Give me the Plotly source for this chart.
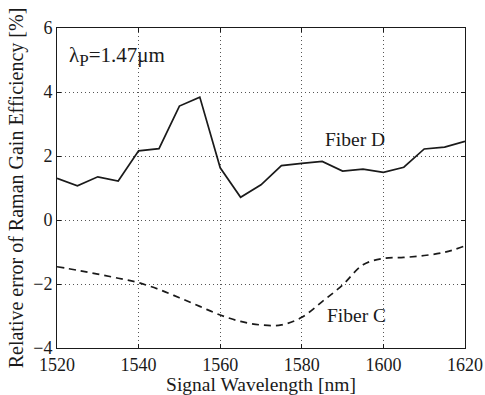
import plotly.graph_objects as go

wavelength = [1520, 1525, 1530, 1535, 1540, 1545, 1550, 1555, 1560, 1565, 1570,
              1575, 1580, 1585, 1590, 1595, 1600, 1605, 1610, 1615, 1620]
fiber_d = [1.30, 1.07, 1.35, 1.22, 2.16, 2.23, 3.56, 3.84, 1.63, 0.71, 1.10,
           1.70, 1.77, 1.83, 1.53, 1.59, 1.49, 1.65, 2.22, 2.28, 2.46]
fiber_c = [-1.46, -1.57, -1.69, -1.82, -1.96, -2.17, -2.43, -2.70, -2.97, -3.17, -3.28,
           -3.28, -3.04, -2.55, -2.03, -1.40, -1.20, -1.17, -1.11, -1.01, -0.81]
x_ticks = [1520, 1540, 1560, 1580, 1600, 1620]
y_ticks = [-4, -2, 0, 2, 4, 6]

FONT = "Liberation Serif"
INK = "#1a1a1a"

fig = go.Figure()
fig.add_trace(go.Scatter(x=wavelength, y=fiber_d, mode="lines",
                         line=dict(color=INK, width=1.7), showlegend=False))
fig.add_trace(go.Scatter(x=wavelength, y=fiber_c, mode="lines",
                         line=dict(color=INK, width=1.7, dash="7px,5px", shape="spline"),
                         showlegend=False))

axis_common = dict(showline=True, linecolor=INK, linewidth=1, mirror="ticks",
                   ticks="inside", ticklen=4, tickcolor=INK,
                   showgrid=True, gridcolor="#555", griddash="1px,3px", gridwidth=1,
                   zeroline=False, automargin=False,
                   tickfont=dict(family=FONT, size=18, color=INK))

fig.update_xaxes(range=[1520, 1620], tickvals=x_ticks,
                 title=dict(text="Signal Wavelength [nm]", font=dict(family=FONT, size=19.5, color=INK), standoff=0),
                 **axis_common)
fig.update_yaxes(range=[-4, 6], tickvals=y_ticks,
                 title=dict(text="Relative error of Raman Gain Efficiency [%]", font=dict(family=FONT, size=20, color=INK), standoff=4),
                 **axis_common)

fig.add_annotation(x=1522.5, y=5.1, xref="x", yref="y", xanchor="left", yanchor="middle",
                   text="λ<sub><span style='font-size:17px'>P</span></sub>=1.47μm", showarrow=False,
                   font=dict(family=FONT, size=21, color=INK))
fig.add_annotation(x=1593, y=2.53, xref="x", yref="y", xanchor="center", yanchor="middle",
                   text="Fiber D", showarrow=False, font=dict(family=FONT, size=19.5, color=INK))
fig.add_annotation(x=1593.5, y=-2.97, xref="x", yref="y", xanchor="center", yanchor="middle",
                   text="Fiber C", showarrow=False, font=dict(family=FONT, size=19.5, color=INK))

fig.update_layout(width=485, height=395, margin=dict(l=57, r=20, t=28, b=47),
                  paper_bgcolor="white", plot_bgcolor="white",
                  font=dict(family=FONT, color=INK))
fig.write_html("out.html", config={"displayModeBar": False},
               post_script="document.body.style.margin='0';document.body.style.overflow='hidden';")
